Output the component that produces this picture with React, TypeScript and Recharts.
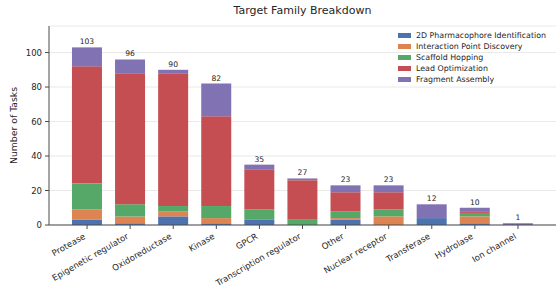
import { Bar, BarChart, CartesianGrid, LabelList, XAxis, YAxis } from "recharts";

const categories = [
  "Protease",
  "Epigenetic regulator",
  "Oxidoreductase",
  "Kinase",
  "GPCR",
  "Transcription regulator",
  "Other",
  "Nuclear receptor",
  "Transferase",
  "Hydrolase",
  "Ion channel",
];
const pharmacophore = [3, 1, 5, 1, 3, 0, 3, 0, 4, 1, 0];
const interaction = [6, 4, 3, 3, 0, 0, 1, 5, 0, 4, 0];
const scaffold = [15, 7, 3, 7, 6, 3, 4, 4, 0, 2, 0];
const lead = [68, 76, 77, 52, 23, 23, 11, 10, 0, 1, 0];
const fragment = [11, 8, 2, 19, 3, 1, 4, 4, 8, 2, 1];
const yTicks = [0, 20, 40, 60, 80, 100];

const series = [
  { key: "pharmacophore", name: "2D Pharmacophore Identification", color: "#4C72B0" },
  { key: "interaction", name: "Interaction Point Discovery", color: "#DD8452" },
  { key: "scaffold", name: "Scaffold Hopping", color: "#55A868" },
  { key: "lead", name: "Lead Optimization", color: "#C44E52" },
  { key: "fragment", name: "Fragment Assembly", color: "#8172B3" },
];

const rows = categories.map((category, i) => ({
  category,
  pharmacophore: pharmacophore[i],
  interaction: interaction[i],
  scaffold: scaffold[i],
  lead: lead[i],
  fragment: fragment[i],
  total: pharmacophore[i] + interaction[i] + scaffold[i] + lead[i] + fragment[i],
}));

const FONT = "'DejaVu Sans', sans-serif";
const TEXT = "#262626";
const AXIS = "#4a4a4a";

function AngledTick({ x, y, payload }: any) {
  return (
    <text
      x={x - 1}
      y={y + 7}
      transform={`rotate(-30, ${x - 1}, ${y + 7})`}
      textAnchor="end"
      fontSize={8.5}
      fontFamily={FONT}
      fill={TEXT}
    >
      {payload.value}
    </text>
  );
}

// legend drawn as plain html over the plot, so recharts doesn't reserve space for it
function LegendBox() {
  return (
    <div
      style={{
        position: "absolute",
        left: 398,
        top: 30,
        fontFamily: FONT,
        fontSize: 7.9,
        color: TEXT,
      }}
    >
      {series.map((s) => (
        <div key={s.key} style={{ display: "flex", alignItems: "center", height: 11 }}>
          <span style={{ width: 12.5, height: 5, background: s.color, marginRight: 5.5 }} />
          <span style={{ whiteSpace: "nowrap", lineHeight: "11px" }}>{s.name}</span>
        </div>
      ))}
    </div>
  );
}

export default function App() {
  return (
    <div style={{ position: "absolute", left: 0, top: 0, width: 560, height: 296, background: "#fff" }}>
      <div
        style={{
          position: "absolute",
          left: 49,
          width: 507,
          top: 4,
          textAlign: "center",
          fontFamily: FONT,
          fontSize: 11,
          lineHeight: "13px",
          color: TEXT,
        }}
      >
        Target Family Breakdown
      </div>
      <BarChart
        width={560}
        height={296}
        data={rows}
        margin={{ top: 26, right: 4, bottom: 0, left: 0 }}
        barCategoryGap="15%"
      >
        <CartesianGrid vertical={false} stroke="#e3e3e3" strokeWidth={0.8} />
        <XAxis
          dataKey="category"
          interval={0}
          height={71}
          padding={{ left: 16.5, right: 16.5 }}
          tickSize={4}
          tickLine={{ stroke: AXIS }}
          axisLine={{ stroke: AXIS }}
          tick={<AngledTick />}
        />
        <YAxis
          width={49}
          domain={[0, 115.4]}
          ticks={yTicks}
          tickSize={4}
          tickMargin={3}
          tickLine={{ stroke: AXIS }}
          axisLine={{ stroke: AXIS }}
          tick={{ fontSize: 8.5, fontFamily: FONT, fill: TEXT }}
          label={{
            content: ({ viewBox }: any) => {
              const cy = viewBox.y + viewBox.height / 2;
              return (
                <text
                  x={13}
                  y={cy}
                  transform={`rotate(-90, 13, ${cy})`}
                  textAnchor="middle"
                  dominantBaseline="central"
                  fontSize={9.3}
                  fontFamily={FONT}
                  fill={TEXT}
                >
                  Number of Tasks
                </text>
              );
            },
          }}
        />
        {series.map((s) => (
          <Bar key={s.key} dataKey={s.key} name={s.name} stackId="a" fill={s.color} isAnimationActive={false}>
            {s.key === "fragment" && (
              <LabelList
                dataKey="total"
                position="top"
                offset={3}
                fontSize={7.6}
                fontFamily={FONT}
                fill={TEXT}
              />
            )}
          </Bar>
        ))}
      </BarChart>
      <LegendBox />
    </div>
  );
}
